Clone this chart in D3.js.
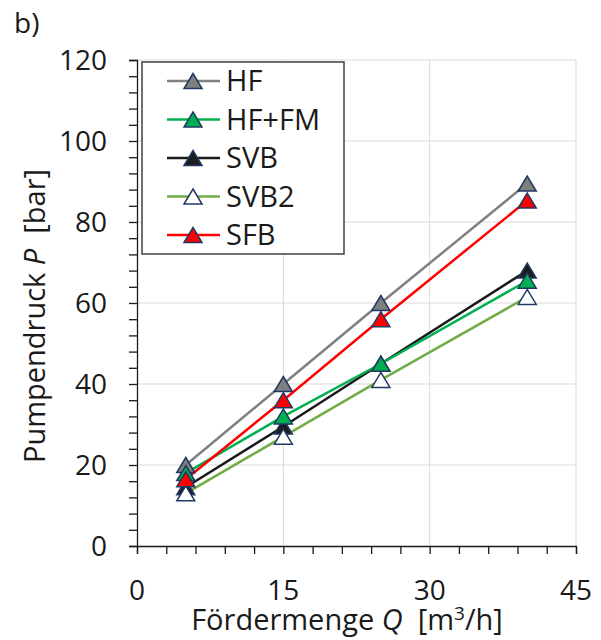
<!DOCTYPE html>
<html>
<head>
<meta charset="utf-8">
<script src="https://cdn.jsdelivr.net/npm/d3@7"></script>
<style>
  body { margin: 0; background: #fff; }
  text { font-family: "Open Sans", sans-serif; fill: #1a1a1a; white-space: pre; }
</style>
</head>
<body>
<div id="chart"></div>
<script>
// data
var flow = [5, 15, 25, 40];
var seriesNames = ["HF", "HF+FM", "SVB", "SVB2", "SFB"];
var hf    = [20, 40, 60, 89.5];
var hfFm  = [18, 32, 45, 65.5];
var svb   = [14.5, 29.5, 45, 68];
var svb2  = [13, 27, 41, 61.5];
var sfb   = [16.5, 36, 56, 85.3];
var xTicks = [0, 15, 30, 45];
var yTicks = [0, 20, 40, 60, 80, 100, 120];

var lineColor   = {"HF": "#808080", "HF+FM": "#00b050", "SVB": "#1a1a1a", "SVB2": "#70ad47", "SFB": "#ff0000"};
var markerColor = {"HF": "#7f7f7f", "HF+FM": "#00b050", "SVB": "#1c1c1c", "SVB2": "#ffffff", "SFB": "#ff0000"};
var values = {"HF": hf, "HF+FM": hfFm, "SVB": svb, "SVB2": svb2, "SFB": sfb};
// drawing order seen in the overlaps
var drawOrder = ["HF", "SVB", "HF+FM", "SVB2", "SFB"];

var width = 601, height = 640;
var svg = d3.select("#chart").append("svg")
    .attr("width", width)
    .attr("height", height);

var x = d3.scaleLinear().domain([0, 45]).range([137, 576]);
var y = d3.scaleLinear().domain([0, 120]).range([546, 60]);

// grid
svg.append("g").selectAll("line")
  .data(yTicks.slice(1))
  .enter().append("line")
    .attr("x1", x(0)).attr("x2", x(45))
    .attr("y1", function(d) { return y(d); })
    .attr("y2", function(d) { return y(d); })
    .attr("stroke", "#d9d9d9").attr("stroke-width", 1);
svg.append("g").selectAll("line")
  .data(xTicks.slice(1))
  .enter().append("line")
    .attr("y1", y(0)).attr("y2", y(120))
    .attr("x1", function(d) { return x(d); })
    .attr("x2", function(d) { return x(d); })
    .attr("stroke", "#d9d9d9").attr("stroke-width", 1);

// axes
var xAxis = svg.append("g")
  .attr("transform", "translate(0," + y(0) + ")")
  .call(d3.axisBottom(x).tickValues(d3.range(0, 46, 3)).tickSize(8).tickFormat(""));
var yAxis = svg.append("g")
  .attr("transform", "translate(" + x(0) + ",0)")
  .call(d3.axisLeft(y).tickValues(d3.range(0, 121, 4)).tickSize(8).tickFormat(""));
[xAxis, yAxis].forEach(function(a) {
  a.select(".domain").attr("stroke", "#1a1a1a").attr("stroke-width", 1.3);
  a.selectAll(".tick line").attr("stroke", "#1a1a1a").attr("stroke-width", 1.3);
});

// tick labels
svg.append("g").selectAll("text")
  .data(xTicks)
  .enter().append("text")
    .attr("x", function(d) { return x(d); })
    .attr("y", 600)
    .attr("text-anchor", "middle")
    .style("font-size", "28px")
    .text(function(d) { return d; });
svg.append("g").selectAll("text")
  .data(yTicks)
  .enter().append("text")
    .attr("x", 107)
    .attr("y", function(d) { return y(d) + 10; })
    .attr("text-anchor", "end")
    .style("font-size", "28px")
    .text(function(d) { return d; });

// axis titles
var xt = svg.append("text")
  .attr("x", 347)
  .attr("y", 630)
  .attr("text-anchor", "middle")
  .style("font-size", "29px");
xt.append("tspan").text("Fördermenge ");
xt.append("tspan").style("font-style", "italic").text("Q");
xt.append("tspan").text("  [m");
xt.append("tspan").attr("dy", -10).style("font-size", "19px").text("3");
xt.append("tspan").attr("dy", 10).text("/h]");

var yt = svg.append("text")
  .attr("transform", "translate(45,316) rotate(-90)")
  .attr("text-anchor", "middle")
  .style("font-size", "29px");
yt.append("tspan").text("Pumpendruck ");
yt.append("tspan").style("font-style", "italic").text("P");
yt.append("tspan").text("  [bar]");

svg.append("text")
  .attr("x", 14)
  .attr("y", 33)
  .style("font-size", "28px")
  .text("b)");

// lines and markers
var tri = "M0,-7.5L9,7.5L-9,7.5Z";
var line = d3.line()
  .x(function(d, i) { return x(flow[i]); })
  .y(function(d) { return y(d); });

drawOrder.forEach(function(name) {
  svg.append("path")
    .datum(values[name])
    .attr("d", line)
    .attr("fill", "none")
    .attr("stroke", lineColor[name])
    .attr("stroke-width", 2.5);
});
drawOrder.forEach(function(name) {
  svg.append("g").selectAll("path")
    .data(values[name])
    .enter().append("path")
      .attr("d", tri)
      .attr("transform", function(d, i) { return "translate(" + x(flow[i]) + "," + y(d) + ")"; })
      .attr("fill", markerColor[name])
      .attr("stroke", "#203864")
      .attr("stroke-width", 1.5);
});

// legend
var legend = svg.append("g");
legend.append("rect")
  .attr("x", 142).attr("y", 62)
  .attr("width", 202).attr("height", 192)
  .attr("fill", "#fff")
  .attr("stroke", "#404040")
  .attr("stroke-width", 1.5);
var rowH = 38.5;
var rows = legend.selectAll("g.row")
  .data(seriesNames)
  .enter().append("g")
    .attr("class", "row")
    .attr("transform", function(d, i) { return "translate(0," + (81 + i * rowH) + ")"; });
rows.append("line")
  .attr("x1", 167).attr("x2", 220)
  .attr("stroke", function(d) { return lineColor[d]; })
  .attr("stroke-width", 2.5);
rows.append("path")
  .attr("d", tri)
  .attr("transform", "translate(193,0)")
  .attr("fill", function(d) { return markerColor[d]; })
  .attr("stroke", "#203864")
  .attr("stroke-width", 1.5);
rows.append("text")
  .attr("x", 226)
  .attr("y", 10)
  .style("font-size", "29px")
  .text(function(d) { return d; });
</script>
</body>
</html>
